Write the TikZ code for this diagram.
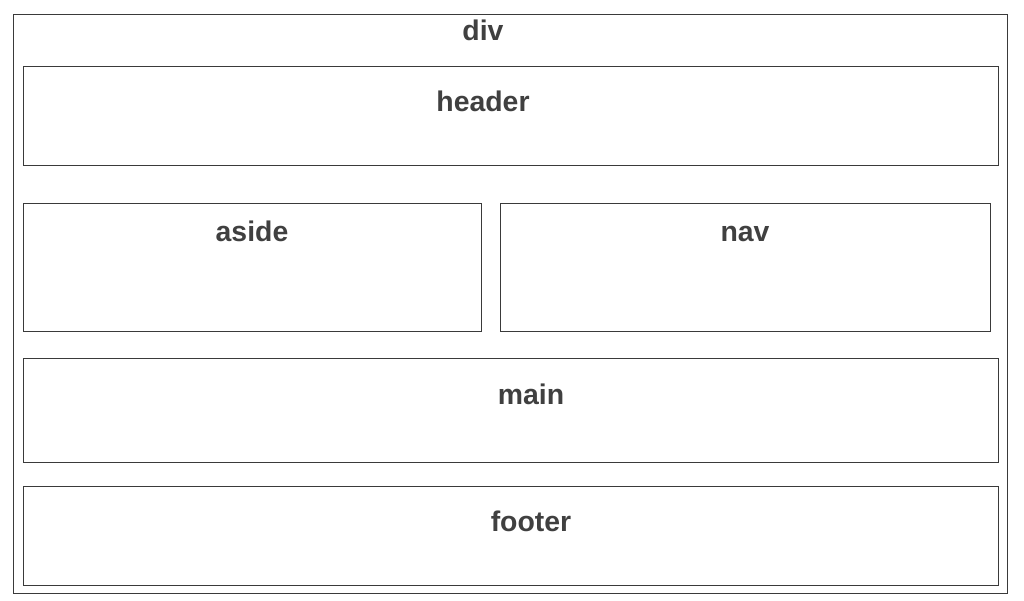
\documentclass[tikz,border=0pt]{standalone}
\usepackage{fontspec}
\setmainfont{Liberation Sans}
\usepackage{tikz}
\definecolor{txtgray}{HTML}{404040}
\definecolor{linegray}{HTML}{3A3A3A}
\tikzset{
  box/.style={draw=linegray,line width=0.75pt},
  lbl/.style={anchor=base,inner sep=0pt,text=txtgray,font=\fontsize{21.3}{25}\selectfont\bfseries}
}

\begin{document}
\begin{tikzpicture}[x=0.75pt,y=-0.75pt]
\useasboundingbox (0,0) rectangle (1024,600);
% outer div
\draw[box] (13,14) rectangle (1007,593);
\node[lbl] (div) at (483,40) {div};
%
\draw[box] (23,66) rectangle (998,165);
\node[lbl] (header) at (483,111) {header};
%
\draw[box] (23,203) rectangle (481,331);
\node[lbl] (aside) at (252,241) {aside};
\draw[box] (500,203) rectangle (990,331);
\node[lbl] (nav) at (745,241) {nav};
%
\draw[box] (23,358) rectangle (998,462);
\node[lbl] (main) at (531,404) {main};
%
\draw[box] (23,486) rectangle (998,585);
\node[lbl] (footer) at (531,531) {footer};
\end{tikzpicture}
\end{document}
